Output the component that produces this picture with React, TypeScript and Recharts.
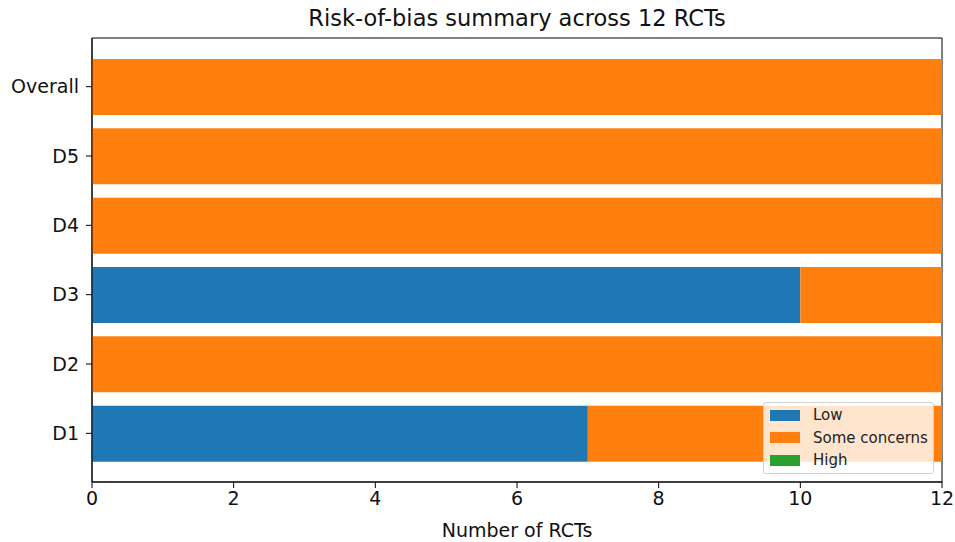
import React from 'react';
import { BarChart, Bar, XAxis, YAxis, Legend, CartesianGrid } from 'recharts';

const domains = ['Overall', 'D5', 'D4', 'D3', 'D2', 'D1'];
const lowCounts = [0, 0, 0, 10, 0, 7];
const someConcernsCounts = [12, 12, 12, 2, 12, 5];
const highCounts = [0, 0, 0, 0, 0, 0];
const xTicks = [0, 2, 4, 6, 8, 10, 12];

const data = domains.map((d, i) => ({
  domain: d,
  low: lowCounts[i],
  some: someConcernsCounts[i],
  high: highCounts[i],
}));

const series = [
  { key: 'low', name: 'Low', color: '#1f77b4' },
  { key: 'some', name: 'Some concerns', color: '#ff7f0e' },
  { key: 'high', name: 'High', color: '#2ca02c' },
];

const font = 'DejaVu Sans, sans-serif';

// frame lines on the edges of the plot area (matplotlib-like spines)
const frameRows = ({ offset }: any) => [offset.top, offset.top + offset.height];
const frameCols = ({ offset }: any) => [offset.left, offset.left + offset.width];

const LegendBox = () => (
  <div
    style={{
      width: 171,
      height: 72,
      background: 'rgba(255,255,255,0.8)',
      border: '1px solid #d0d0d0',
      borderRadius: 3,
      fontFamily: font,
      fontSize: 15,
      color: '#222',
      boxSizing: 'border-box',
      paddingTop: 1,
    }}
  >
    {series.map((s) => (
      <div key={s.key} style={{ display: 'flex', alignItems: 'center', height: 22.5 }}>
        <span
          style={{
            display: 'inline-block',
            width: 30,
            height: 11,
            background: s.color,
            marginLeft: 6,
            marginRight: 13,
          }}
        />
        <span>{s.name}</span>
      </div>
    ))}
  </div>
);

export default function App() {
  return (
    <div style={{ position: 'absolute', left: 0, top: 0, width: 955, height: 542, background: '#fff' }}>
      <div
        style={{
          position: 'absolute',
          top: 4,
          left: 92,
          width: 850,
          textAlign: 'center',
          fontFamily: font,
          fontSize: 22.5,
          lineHeight: '28px',
          color: '#111',
        }}
      >
        Risk-of-bias summary across 12 RCTs
      </div>
      <BarChart
        width={955}
        height={542}
        data={data}
        layout="vertical"
        margin={{ top: 38, right: 13, bottom: 0, left: 0 }}
      >
        <CartesianGrid
          stroke="#000"
          strokeOpacity={1}
          horizontalCoordinatesGenerator={frameRows}
          verticalCoordinatesGenerator={frameCols}
        />
        <XAxis
          type="number"
          domain={[0, 12]}
          ticks={xTicks}
          allowDataOverflow
          height={60}
          tickSize={6}
          tickMargin={4}
          stroke="#000"
          tick={{ fill: '#111', fontSize: 19, fontFamily: font }}
          label={{ value: 'Number of RCTs', position: 'insideBottom', offset: 5, fill: '#111', fontSize: 19, fontFamily: font }}
        />
        <YAxis
          type="category"
          dataKey="domain"
          width={92}
          padding={{ top: 14, bottom: 14 }}
          tickSize={6}
          tickMargin={7}
          stroke="#000"
          tick={{ fill: '#111', fontSize: 19, fontFamily: font }}
        />
        {series.map((s) => (
          <Bar
            key={s.key}
            dataKey={s.key}
            name={s.name}
            stackId="a"
            fill={s.color}
            barSize={56}
            isAnimationActive={false}
          />
        ))}
        <Legend
          layout="vertical"
          align="center"
          verticalAlign="middle"
          content={<LegendBox />}
          wrapperStyle={{ position: 'absolute', left: 763, top: 402, width: 171, height: 72 }}
        />
      </BarChart>
    </div>
  );
}
